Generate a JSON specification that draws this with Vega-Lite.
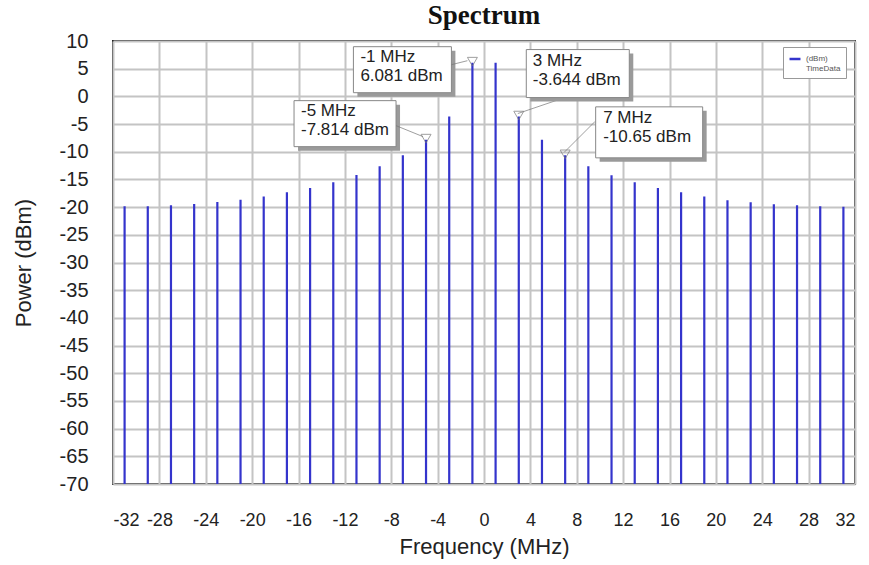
{
  "$schema": "https://vega.github.io/schema/vega-lite/v6.json",
  "width": 742,
  "height": 443,
  "autosize": "none",
  "padding": {"left": 113, "top": 41, "right": 14, "bottom": 81},
  "background": "white",
  "title": {
    "text": "Spectrum",
    "font": "Liberation Serif",
    "fontSize": 27,
    "fontWeight": "bold",
    "color": "#111111",
    "anchor": "middle",
    "offset": 1
  },
  "config": {
    "view": {"stroke": "#222222", "strokeWidth": 2},
    "axis": {
      "labelFont": "Liberation Sans",
      "titleFont": "Liberation Sans",
      "labelColor": "#222222",
      "titleColor": "#222222",
      "labelFontSize": 20,
      "titleFontSize": 22,
      "titleFontWeight": "normal",
      "gridColor": "#c4c4c4",
      "gridWidth": 2,
      "domain": false,
      "ticks": false,
      "labelOverlap": false,
      "labelExpr": "toString(datum.value)"
    }
  },
  "data": {
    "values": [
      {"freq": -31, "power": -19.86},
      {"freq": -29, "power": -19.86},
      {"freq": -27, "power": -19.68},
      {"freq": -25, "power": -19.42},
      {"freq": -23, "power": -19.06},
      {"freq": -21, "power": -18.65},
      {"freq": -19, "power": -18.1},
      {"freq": -17, "power": -17.33},
      {"freq": -15, "power": -16.53},
      {"freq": -13, "power": -15.52},
      {"freq": -11, "power": -14.19},
      {"freq": -9, "power": -12.64},
      {"freq": -7, "power": -10.65},
      {"freq": -5, "power": -7.814},
      {"freq": -3, "power": -3.644},
      {"freq": -1, "power": 6.081},
      {"freq": 1, "power": 6.081},
      {"freq": 3, "power": -3.644},
      {"freq": 5, "power": -7.814},
      {"freq": 7, "power": -10.65},
      {"freq": 9, "power": -12.64},
      {"freq": 11, "power": -14.26},
      {"freq": 13, "power": -15.52},
      {"freq": 15, "power": -16.53},
      {"freq": 17, "power": -17.33},
      {"freq": 19, "power": -18.1},
      {"freq": 21, "power": -18.77},
      {"freq": 23, "power": -19.13},
      {"freq": 25, "power": -19.49},
      {"freq": 27, "power": -19.68},
      {"freq": 29, "power": -19.86},
      {"freq": 31, "power": -19.91}
    ]
  },
  "encoding": {
    "x": {
      "field": "freq",
      "type": "quantitative",
      "scale": {"domain": [-32, 32], "nice": false, "zero": false},
      "axis": {
        "title": "Frequency (MHz)",
        "values": [-32, -28, -24, -20, -16, -12, -8, -4, 0, 4, 8, 12, 16, 20, 24, 28, 32],
        "labelFontSize": 18,
        "labelPadding": 27,
        "titlePadding": 7
      }
    },
    "y": {
      "field": "power",
      "type": "quantitative",
      "scale": {"domain": [-70, 10], "nice": false, "zero": false},
      "axis": {
        "title": "Power (dBm)",
        "values": [-70, -65, -60, -55, -50, -45, -40, -35, -30, -25, -20, -15, -10, -5, 0, 5, 10],
        "labelPadding": 25,
        "titlePadding": 24
      }
    }
  },
  "layer": [
    {
      "mark": {"type": "rule", "strokeWidth": 2.2},
      "encoding": {
        "y2": {"datum": -70},
        "color": {
          "datum": "TimeData",
          "scale": {"range": ["#3434cc"]},
          "legend": {
            "title": null,
            "orient": "none",
            "legendX": 670,
            "legendY": 6,
            "direction": "vertical",
            "fillColor": "white",
            "strokeColor": "#999999",
            "padding": 5,
            "symbolType": "stroke",
            "symbolStrokeWidth": 2.5,
            "symbolSize": 120,
            "labelFont": "Liberation Sans",
            "labelFontSize": 8,
            "labelColor": "#555555",
            "labelExpr": "['(dBm)', 'TimeData']"
          }
        }
      }
    },
    {
      "transform": [{"filter": "indexof([-5, -1, 3, 7], datum.freq) >= 0"}],
      "mark": {"type": "point", "shape": "triangle-down", "size": 100, "filled": false, "stroke": "#777777", "strokeWidth": 1, "yOffset": -1}
    },
    {
      "transform": [
        {"filter": "datum.freq == -1"},
        {"calculate": "[toString(datum.freq) + ' MHz', toString(datum.power) + ' dBm']", "as": "label"}
      ],
      "layer": [
        {"mark": {"type": "rect", "width": 98, "height": 46, "xOffset": -66, "yOffset": 11, "fill": "#9a9a9a"}},
        {"mark": {"type": "rect", "width": 98, "height": 46, "xOffset": -70, "yOffset": 7, "fill": "white", "stroke": "#888888", "strokeWidth": 1}},
        {"mark": {"type": "text", "align": "left", "baseline": "top", "dx": -112, "dy": -14, "font": "Liberation Sans", "fontSize": 17, "lineHeight": 19, "color": "#222222"}, "encoding": {"text": {"field": "label"}}},
        {"mark": {"type": "point", "shape": "M-5,-2L-21,2", "size": 4, "filled": false, "stroke": "#777777", "strokeWidth": 1}}
      ]
    },
    {
      "transform": [
        {"filter": "datum.freq == -5"},
        {"calculate": "[toString(datum.freq) + ' MHz', toString(datum.power) + ' dBm']", "as": "label"}
      ],
      "layer": [
        {"mark": {"type": "rect", "width": 102, "height": 46, "xOffset": -77, "yOffset": -12, "fill": "#9a9a9a"}},
        {"mark": {"type": "rect", "width": 102, "height": 46, "xOffset": -81, "yOffset": -16, "fill": "white", "stroke": "#888888", "strokeWidth": 1}},
        {"mark": {"type": "text", "align": "left", "baseline": "top", "dx": -125, "dy": -37, "font": "Liberation Sans", "fontSize": 17, "lineHeight": 19, "color": "#222222"}, "encoding": {"text": {"field": "label"}}},
        {"mark": {"type": "point", "shape": "M-3,-3L-30,-14", "size": 4, "filled": false, "stroke": "#777777", "strokeWidth": 1}}
      ]
    },
    {
      "transform": [
        {"filter": "datum.freq == 3"},
        {"calculate": "[toString(datum.freq) + ' MHz', toString(datum.power) + ' dBm']", "as": "label"}
      ],
      "layer": [
        {"mark": {"type": "point", "shape": "M-1,-3L49,-20", "size": 4, "filled": false, "stroke": "#777777", "strokeWidth": 1}},
        {"mark": {"type": "rect", "width": 103, "height": 48, "xOffset": 63, "yOffset": -39, "fill": "#9a9a9a"}},
        {"mark": {"type": "rect", "width": 103, "height": 48, "xOffset": 59, "yOffset": -43, "fill": "white", "stroke": "#888888", "strokeWidth": 1}},
        {"mark": {"type": "text", "align": "left", "baseline": "top", "dx": 14, "dy": -64, "font": "Liberation Sans", "fontSize": 17, "lineHeight": 19, "color": "#222222"}, "encoding": {"text": {"field": "label"}}}
      ]
    },
    {
      "transform": [
        {"filter": "datum.freq == 7"},
        {"calculate": "[toString(datum.freq) + ' MHz', toString(datum.power) + ' dBm']", "as": "label"}
      ],
      "layer": [
        {"mark": {"type": "point", "shape": "M-1,-3L30,-34", "size": 4, "filled": false, "stroke": "#777777", "strokeWidth": 1}},
        {"mark": {"type": "rect", "width": 107, "height": 51, "xOffset": 88, "yOffset": -19, "fill": "#9a9a9a"}},
        {"mark": {"type": "rect", "width": 107, "height": 51, "xOffset": 84, "yOffset": -23, "fill": "white", "stroke": "#888888", "strokeWidth": 1}},
        {"mark": {"type": "text", "align": "left", "baseline": "top", "dx": 38, "dy": -45, "font": "Liberation Sans", "fontSize": 17, "lineHeight": 19, "color": "#222222"}, "encoding": {"text": {"field": "label"}}}
      ]
    }
  ]
}
